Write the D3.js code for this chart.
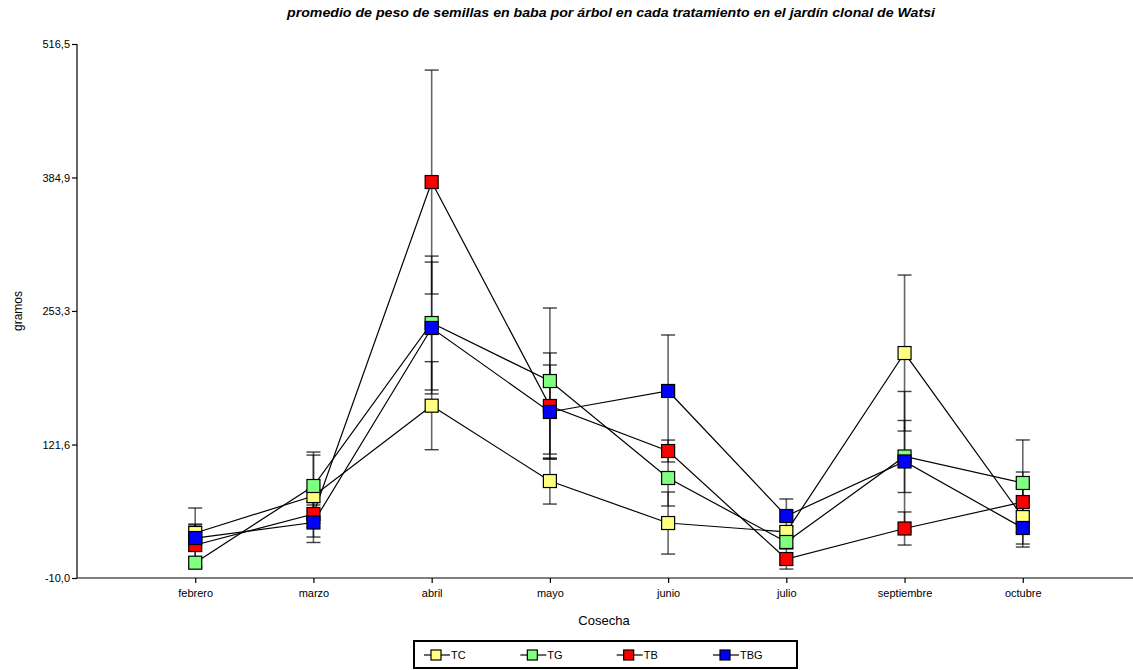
<!DOCTYPE html>
<html><head><meta charset="utf-8">
<script src="https://cdn.jsdelivr.net/npm/d3@7"></script>
<style>
body{margin:0;background:#fff;}
text{font-family:"Liberation Sans",Arial,sans-serif;fill:#000;}
</style></head>
<body><svg id="c" width="1133" height="670"></svg>
<script>
const categories = ["febrero","marzo","abril","mayo","junio","julio","septiembre","octubre"];
const seriesNames = ["TC","TG","TB","TBG"];
const seriesColors = ["#ffff80","#80ff80","#ff0000","#0000ff"];
const TC  = [34.4, 70.8, 159.9, 85.6, 44.2, 35.4, 211.8, 50.1];
const TG  = [5.1, 80.7, 241.4, 184.2, 88.6, 25.5, 109.8, 83.7];
const TB  = [22.5, 53.1, 380.4, 159.6, 115.2, 8.7, 38.8, 64.9];
const TBG = [29.4, 44.7, 236.5, 153.7, 174.4, 51.1, 104.9, 39.3];
const TC_err  = [7.9, 40.4, 43.4, 22.7, 30.6, 4.9, 76.9, 29.6];
const TG_err  = [4.9, 33.5, 66.0, 72.0, 27.6, 4.9, 35.5, 42.4];
const TB_err  = [20.7, 8.9, 110.4, 52.3, 10.8, 9.9, 16.3, 29.6];
const TBG_err = [29.6, 19.7, 65.0, 46.3, 55.2, 16.8, 69.0, 15.8];
const yTicks = [-10.0, 121.6, 253.3, 384.9, 516.5];
const titleText = "promedio de peso de semillas en baba por árbol en cada tratamiento en el jardín clonal de Watsi";
const xTitle = "Cosecha", yTitle = "gramos";

const values = [TC, TG, TB, TBG];
const errs = [TC_err, TG_err, TB_err, TBG_err];

const svg = d3.select("#c");
const x = d3.scalePoint().domain(categories).range([77, 1141]).padding(1);
const y = d3.scaleLinear().domain([-10, 516.5]).range([578, 44]);
const fmt = v => (v < 0 ? "-" : "") + d3.format(".1f")(Math.abs(v)).replace(".", ",");

// title
svg.append("text").attr("x", 611).attr("y", 17).attr("text-anchor","middle")
  .style("font-size","12.5px").style("font-weight","bold").style("font-style","italic")
  .attr("textLength", 648).attr("lengthAdjust","spacingAndGlyphs")
  .text(titleText);

// axes
const yAxis = svg.append("g").attr("transform","translate(77,0)")
  .call(d3.axisLeft(y).tickValues(yTicks).tickFormat(fmt).tickSize(5).tickPadding(2));
yAxis.select(".domain").attr("d","M0,44V578");
const xAxis = svg.append("g").attr("transform","translate(0,578)")
  .call(d3.axisBottom(x).tickSize(5).tickPadding(6));
xAxis.select(".domain").attr("d","M77,0H1133");
svg.selectAll(".tick text").style("font-size","11px").style("font-family","'Liberation Sans',Arial,sans-serif");
svg.selectAll(".domain, .tick line").attr("stroke","#000").attr("stroke-width",1.2);

svg.append("text").attr("x", 604).attr("y", 625).attr("text-anchor","middle")
  .style("font-size","13px").text(xTitle);
svg.append("text").attr("transform","translate(22,311) rotate(-90)").attr("text-anchor","middle")
  .style("font-size","12px").text(yTitle);

// error bars
const eg = svg.append("g");
values.forEach((vals, s) => {
  vals.forEach((v, i) => {
    const cx = x(categories[i]);
    const e = errs[s][i];
    const y1 = y(v + e), y2 = y(v - e);
    eg.append("line").attr("x1",cx).attr("x2",cx).attr("y1",y1).attr("y2",y2)
      .attr("stroke","#000").attr("stroke-opacity",0.6).attr("stroke-width",1.6);
    [y1,y2].forEach(yy => eg.append("line").attr("x1",cx-7).attr("x2",cx+7).attr("y1",yy).attr("y2",yy)
      .attr("stroke","#000").attr("stroke-opacity",0.75).attr("stroke-width",1.4));
  });
});

// lines
const line = d3.line().x((d,i)=>x(categories[i])).y(d=>y(d));
values.forEach(vals => {
  svg.append("path").attr("d", line(vals)).attr("fill","none").attr("stroke","#000").attr("stroke-width",1.2);
});

// markers
const ms = 13;
values.forEach((vals, s) => {
  svg.append("g").selectAll("rect").data(vals).join("rect")
    .attr("x",(d,i)=>x(categories[i]) - ms/2).attr("y", d=>y(d) - ms/2)
    .attr("width", ms).attr("height", ms)
    .attr("fill", seriesColors[s]).attr("stroke","#000").attr("stroke-width",1.2);
});

// legend
svg.append("rect").attr("x",414).attr("y",641).attr("width",383).attr("height",27)
  .attr("fill","#fff").attr("stroke","#000").attr("stroke-width",2);
const legX = d3.scalePoint().domain(seriesNames).range([424, 713]);
seriesNames.forEach((n, s) => {
  const lx = legX(n), ly = 655;
  svg.append("line").attr("x1",lx).attr("x2",lx+26).attr("y1",ly).attr("y2",ly).attr("stroke","#000").attr("stroke-width",1.2);
  svg.append("rect").attr("x",lx+7).attr("y",ly-5).attr("width",10).attr("height",10)
    .attr("fill",seriesColors[s]).attr("stroke","#000").attr("stroke-width",1.2);
  svg.append("text").attr("x",lx+27).attr("y",ly+4).style("font-size","11px").text(n);
});
</script></body></html>
